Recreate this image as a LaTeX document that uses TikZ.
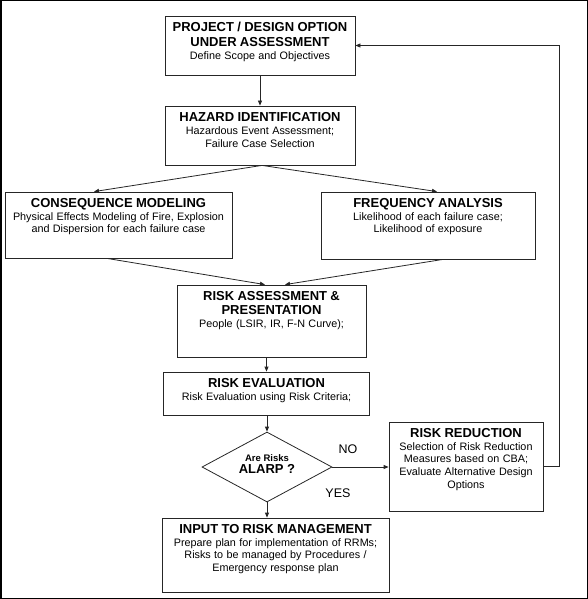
\documentclass[tikz,border=0pt]{standalone}
\usepackage{fontspec}
\setmainfont{Liberation Sans}
\usepackage{tikz}
\usetikzlibrary{shapes.geometric}
\usetikzlibrary{arrows.meta}
\newcommand{\boxhead}[1]{{\bfseries\fontsize{13}{14.5}\selectfont #1\par}}
\newcommand{\boxbody}[1]{{\fontsize{10.8}{12.8}\selectfont #1\par}}

\begin{document}
\begin{tikzpicture}[x=1pt,y=-1pt,
 box/.style={draw=black!85,line width=0.8pt,rectangle},
 boxtext/.style={anchor=north,inner sep=0pt,align=center},
 flow/.style={draw=black!85,line width=0.8pt,-{Triangle[length=5pt,width=4pt]}}]
 \useasboundingbox (0,0) rectangle (588,599);
 \draw[line width=1.5pt] (0.75,0.75) rectangle (587.25,598.25);
 %
 \node[box,minimum width=190,minimum height=59] (proj) at (260,45.5) {};
 \node[box,minimum width=190,minimum height=59] (haz) at (260,135.5) {};
 \node[box,minimum width=227,minimum height=66] (cons) at (118.5,225) {};
 \node[box,minimum width=214,minimum height=67] (freq) at (428,225.5) {};
 \node[box,minimum width=189,minimum height=72] (assess) at (271.5,321) {};
 \node[box,minimum width=206,minimum height=43] (eval) at (266.5,393.5) {};
 \node[box,shape=diamond,minimum width=130,minimum height=70,inner sep=0pt] (alarp) at (267,467) {};
 \node[box,minimum width=154,minimum height=89] (red) at (466,466.5) {};
 \node[box,minimum width=227,minimum height=74] (inp) at (275.5,555) {};
 %
 \node[boxtext,text width=186pt] (projtext) at ([yshift=-6.5pt]proj.north)
  {\boxhead{PROJECT / DESIGN OPTION\\UNDER ASSESSMENT}\boxbody{Define Scope and Objectives}};
 \node[boxtext,text width=186pt] (haztext) at ([yshift=-7pt]haz.north)
  {\boxhead{HAZARD IDENTIFICATION}\boxbody{Hazardous Event Assessment;\\Failure Case Selection}};
 \node[boxtext,text width=223pt] (constext) at ([yshift=-6.5pt]cons.north)
  {\boxhead{CONSEQUENCE MODELING}\boxbody{Physical Effects Modeling of Fire, Explosion\\and Dispersion for each failure case}};
 \node[boxtext,text width=210pt] (freqtext) at ([yshift=-6.5pt]freq.north)
  {\boxhead{FREQUENCY ANALYSIS}\boxbody{Likelihood of each failure case;\\Likelihood of exposure}};
 \node[boxtext,text width=185pt] (assesstext) at ([yshift=-6.5pt]assess.north)
  {\boxhead{RISK ASSESSMENT \&\\PRESENTATION}\boxbody{People (LSIR, IR, F-N Curve);}};
 \node[boxtext,text width=202pt] (evaltext) at ([yshift=-6.5pt]eval.north)
  {\boxhead{RISK EVALUATION}\boxbody{Risk Evaluation using Risk Criteria;}};
 \node[boxtext,text width=150pt] (redtext) at ([yshift=-6.5pt]red.north)
  {\boxhead{RISK REDUCTION}\boxbody{Selection of Risk Reduction\\Measures based on CBA;\\Evaluate Alternative Design\\Options}};
 \node[boxtext,text width=223pt] (inptext) at ([yshift=-6.5pt]inp.north)
  {\boxhead{INPUT TO RISK MANAGEMENT}\boxbody{Prepare plan for implementation of RRMs;\\Risks to be managed by Procedures /\\Emergency response plan}};
 \node[inner sep=0pt,align=center] (alarptext) at (267,464.5)
  {{\bfseries\fontsize{9.5}{13}\selectfont Are Risks}\\{\bfseries\fontsize{13}{14}\selectfont ALARP ?}};
 %
 \node[inner sep=0pt,font=\fontsize{12.5}{14}\selectfont] (no) at (348,449) {NO};
 \node[inner sep=0pt,font=\fontsize{12.5}{14}\selectfont] (yes) at (338,493) {YES};
 %
 \draw[flow] (proj) -- (haz);
 \draw[flow] ([xshift=2pt]haz.south) -- ([xshift=-24.5pt]cons.north);
 \draw[flow] ([xshift=2pt]haz.south) -- ([xshift=9pt]freq.north);
 \draw[flow] ([xshift=-11.5pt]cons.south) -- ([xshift=-6.5pt]assess.north);
 \draw[flow] ([xshift=15pt]freq.south) -- ([xshift=13.5pt]assess.north);
 \draw[flow] (eval.north |- assess.south) -- (eval.north);
 \draw[flow] (alarp.north |- eval.south) -- (alarp.north);
 \draw[flow] (alarp.south) -- (alarp.south |- inp.north);
 \draw[flow] (alarp.east) -- (alarp.east -| red.west);
 \coordinate (back) at (559,466.5);
 \draw[flow] (red.east) -- (back) |- (proj.east);
\end{tikzpicture}
\end{document}
